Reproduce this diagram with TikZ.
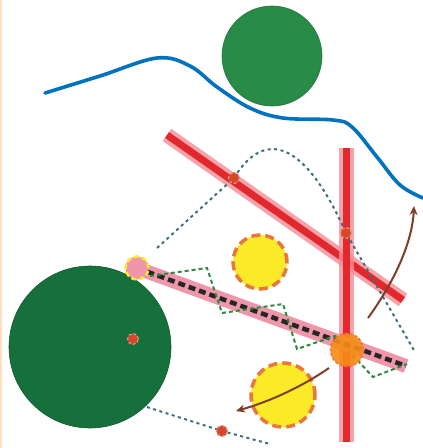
\documentclass[tikz,border=0pt]{standalone}
\usetikzlibrary{arrows.meta}

\definecolor{topgreen}{RGB}{40,140,72}
\definecolor{biggreen}{RGB}{22,112,60}
\definecolor{wavecol}{RGB}{0,114,190}
\definecolor{barcore}{RGB}{226,40,45}
\definecolor{barhalo}{RGB}{244,140,150}
\definecolor{rodpink}{RGB}{240,150,170}
\definecolor{sunyellow}{RGB}{250,234,40}
\definecolor{sunrim}{RGB}{232,118,62}
\definecolor{crossorange}{RGB}{246,140,22}
\definecolor{dotred}{RGB}{214,72,42}
\definecolor{trailcol}{RGB}{62,112,124}
\definecolor{zigcol}{RGB}{46,138,64}
\definecolor{arrowbrown}{RGB}{128,62,42}

\begin{document}
\begin{tikzpicture}[x=1pt, y=-1pt,
  disc/.style={circle, fill=#1, draw=#1!80!black, line width=0.6pt, inner sep=0pt},
  sun/.style={circle, fill=sunyellow, draw=sunrim, line width=3.5pt,
    dash pattern=on 9pt off 5pt, inner sep=0pt},
  reddot/.style={circle, fill=dotred, draw=dotred!55!white, line width=1pt,
    densely dashed, minimum size=11pt, inner sep=0pt},
  halo/.style={line width=15pt, draw=barhalo, opacity=0.8},
  core/.style={line width=7pt, draw=barcore},
  trailline/.style={trailcol, line width=2pt, dash pattern=on 3pt off 3.5pt},
  bendarrow/.style={arrowbrown, line width=2pt, -{Stealth[length=9pt,width=8pt]}}]
  \useasboundingbox (0,0) rectangle (423,448);
  \fill[white] (0,0) rectangle (423,448);
  \draw[orange!25, line width=2pt] (1,0) -- (1,448);

  % wave and discs
  \draw[wavecol, line width=3.6pt, line cap=round] plot[smooth, tension=0.6] coordinates
    {(45,93) (100,76) (157,58) (190,66) (217,87) (250,108) (283,118) (333,120)
     (352,127) (377,157) (400,185) (423,198)};
  \node[disc=topgreen, minimum size=100pt] (topdisc) at (272,56) {};
  \node[disc=biggreen, minimum size=162pt] (bigdisc) at (90,347) {};

  % bars
  \coordinate (b1s) at (167,135);
  \coordinate (b1e) at (403,300);
  \coordinate (b2s) at (346,148);
  \coordinate (b2e) at (346,442);
  \draw[halo] (b1s) -- (b1e);
  \draw[core] (b1s) -- (b1e);
  \draw[halo] (b2s) -- (b2e);
  \draw[core] (b2s) -- (b2e);

  \node[circle, minimum size=24pt, inner sep=0pt] (startdot) at (137,268) {};
  \coordinate (rodend) at (406,366);
  \draw[rodpink, line width=14pt] (startdot.center) -- (rodend);
  \draw[black!85, line width=4.5pt, dash pattern=on 7pt off 4pt] (startdot.center) -- (rodend);

  % zigzag
  \draw[zigcol, line width=2pt, dash pattern=on 4pt off 3pt]
    (150,276) -- (207,268) -- (222,313) -- (283,304) -- (297,349) -- (335,336)
    -- (373,377) -- (407,364);

  % dots
  \node[reddot] (rdot1) at (234,178) {};
  \node[reddot] (rdot2) at (346,233) {};
  \node[reddot] (rdot3) at (222,431) {};
  \node[reddot] (rdot4) at (133,339) {};

  % dotted trails
  \coordinate (t0) at (157,248);
  \coordinate (t1) at (415,352);
  \coordinate (t2) at (147,407);
  \coordinate (t3) at (270,444);
  \draw[trailline] (t0) -- (rdot1.center) .. controls (260,135) and (300,130) .. (rdot2.center) -- (t1);
  \draw[trailline] (t2) -- (rdot3.center) -- (t3);
  \node[reddot] at (rdot1) {};
  \node[reddot] at (rdot2) {};
  \node[reddot] at (rdot3) {};

  % suns
  \node[sun, minimum size=54pt] (sun1) at (260,262) {};
  \node[sun, minimum size=64pt] (sun2) at (283,395) {};
  \node[circle, fill=rodpink, draw=sunyellow, line width=2.5pt, dash pattern=on 5pt off 3pt,
    minimum size=23pt, inner sep=0pt] at (startdot) {};
  \node[circle, fill=crossorange, draw=sunrim, line width=1.5pt, densely dashed,
    minimum size=33pt, inner sep=0pt, opacity=0.9] (cross) at (347,350) {};

  % arrows
  \coordinate (a1s) at (368,318);
  \coordinate (a1e) at (414,206);
  \coordinate (a2s) at (329,368);
  \coordinate (a2e) at (236,411);
  \draw[bendarrow] (a1s) .. controls (392,285) and (412,245) .. (a1e);
  \draw[bendarrow] (a2s) .. controls (300,388) and (268,402) .. (a2e);
\end{tikzpicture}
\end{document}
